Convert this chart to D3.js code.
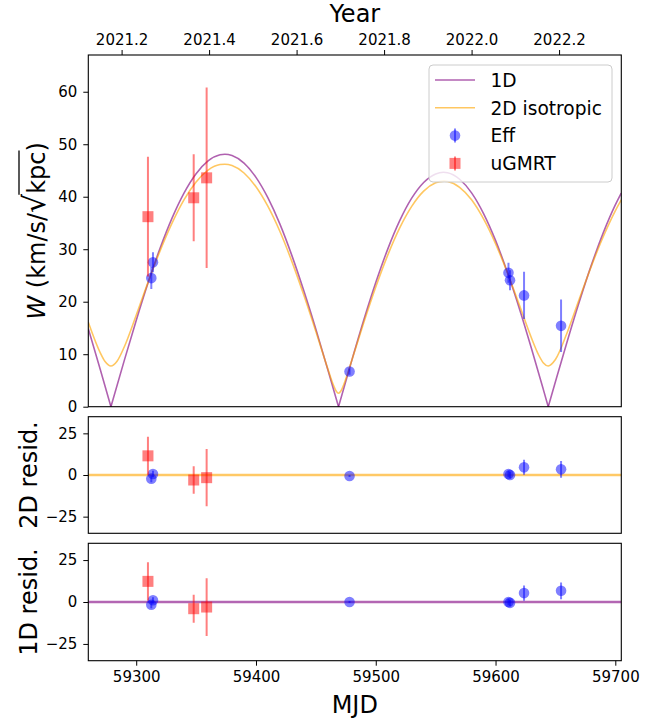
<!DOCTYPE html>
<meta charset="utf-8">
<script src="https://d3js.org/d3.v7.min.js"></script>
<style>
  body { margin: 0; background: #fff; }
  text { font-family: "DejaVu Sans", sans-serif; }
</style>
<div id="viz"></div>
<script>

// ---- data ----
var mjdDomain = [59260, 59705];
var wDomain = [0, 67];
var residDomain = [-35, 35];

var yearTicks = [2021.2, 2021.4, 2021.6, 2021.8, 2022.0, 2022.2];
var mjdTicks = [59300, 59400, 59500, 59600, 59700];
var wTicks = [0, 10, 20, 30, 40, 50, 60];
var residTicks = [-25, 0, 25];

// 1D model curve (zeros split the |...| lobes)
var model1DMjd = [59260, 59270, 59278.9, 59290, 59300, 59310, 59320, 59330, 59340, 59350, 59360, 59370, 59374, 59380,
  59390, 59400, 59410, 59420, 59430, 59440, 59450, 59460, 59468.9, 59480, 59490, 59500, 59510, 59520, 59530, 59540,
  59550, 59556.5, 59560, 59570, 59580, 59590, 59600, 59610, 59620, 59630, 59640, 59644, 59650, 59660, 59670, 59680,
  59690, 59700, 59705];
var model1DW = [14.85, 7.10, 0, 8.78, 16.44, 23.66, 30.23, 35.97, 40.74, 44.39, 46.83, 48.00, 48.1, 47.85,
  46.41, 43.69, 39.78, 34.79, 28.78, 22.03, 14.76, 7.05, 0, 8.83, 16.50, 23.64, 30.02, 35.44, 39.72, 42.72,
  44.35, 44.65, 44.56, 43.33, 40.74, 36.80, 31.69, 25.53, 18.63, 11.09, 3.20, 0, 4.76, 12.58, 20.05, 26.97,
  33.16, 38.44, 40.70];

// 2D isotropic model curve
var model2DMjd = [59260, 59270, 59274, 59278.9, 59284, 59290, 59300, 59310, 59320, 59330, 59340, 59350, 59360, 59370,
  59374, 59380, 59390, 59400, 59410, 59420, 59430, 59440, 59450, 59460, 59464.9, 59466.9, 59468.9, 59470.9, 59472.9,
  59480, 59490, 59500, 59510, 59520, 59530, 59540, 59550, 59557, 59560, 59570, 59580, 59590, 59600, 59610, 59620,
  59630, 59636, 59640, 59644, 59650, 59660, 59670, 59680, 59690, 59700, 59705];
var model2DW = [16.10, 10.27, 8.60, 7.75, 8.66, 11.38, 17.43, 23.78, 29.73, 35.01, 39.44, 42.81, 45.07, 46.13,
  46.2, 45.94, 44.52, 41.90, 38.15, 33.37, 27.64, 21.22, 14.34, 7.20, 3.98, 2.99, 2.57, 2.99, 4.00,
  8.85, 16.02, 22.79, 28.87, 34.06, 38.16, 41.06, 42.65, 42.97, 42.90, 41.80, 39.42, 35.77, 31.07, 25.46, 19.32,
  13.08, 9.85, 8.33, 7.75, 8.98, 14.24, 20.56, 26.77, 32.43, 37.31, 39.40];

// Effelsberg points
var effMjd = [59312.6, 59314.0, 59478.1, 59610.8, 59612.1, 59623.8, 59654.7];
var effW = [24.5, 27.5, 6.7, 25.5, 24.1, 21.2, 15.4];
var effErr = [2.1, 1.9, 0.6, 1.9, 1.9, 4.5, 5.0];
var effRes2D = [-2.2, 0.6, -0.6, 0.6, 0.0, 4.6, 3.4];
var effRes1D = [-1.6, 1.0, 0.0, 0.0, -0.5, 5.3, 6.7];

// uGMRT points
var gmrtMjd = [59309.8, 59348.0, 59358.8];
var gmrtW = [36.2, 39.8, 43.6];
var gmrtErr = [11.4, 8.3, 17.2];
var gmrtRes2D = [11.5, -3.0, -1.6];
var gmrtRes1D = [12.3, -4.0, -3.0];

// ---- layout ----
var W = 670, H = 721;
var left = 88.3, right = 621.3;
var panels = [
  {top: 55, bottom: 406.7, domain: wDomain, ticks: wTicks},
  {top: 416.7, bottom: 533.3, domain: residDomain, ticks: residTicks},
  {top: 543.3, bottom: 660.7, domain: residDomain, ticks: residTicks}
];

var c1D = "purple", c2D = "orange";

var svg = d3.select("#viz").append("svg")
  .attr("width", W).attr("height", H);

var x = d3.scaleLinear().domain(mjdDomain).range([left, right]);

function mjdToYear(m) { return 2000 + (m - 51544.5) / 365.25; }
var xYear = d3.scaleLinear().domain(mjdDomain.map(mjdToYear)).range([left, right]);

panels.forEach(function (p, i) {
  p.y = d3.scaleLinear().domain(p.domain).range([p.bottom, p.top]);
  svg.append("clipPath").attr("id", "clip" + i)
    .append("rect").attr("x", left).attr("y", p.top)
    .attr("width", right - left).attr("height", p.bottom - p.top);
  p.g = svg.append("g");
  p.plot = p.g.append("g").attr("clip-path", "url(#clip" + i + ")");
});

function styleAxis(g) {
  g.select(".domain").remove();
  g.selectAll(".tick line").attr("stroke", "#000").attr("stroke-width", 1);
  g.selectAll(".tick text").attr("fill", "#000")
    .style("font-family", "DejaVu Sans").style("font-size", "15px");
}

// left axes
panels.forEach(function (p) {
  p.g.append("g")
    .attr("transform", "translate(" + left + ",0)")
    .call(d3.axisLeft(p.y).tickValues(p.ticks).tickSize(5).tickPadding(6))
    .call(styleAxis);
});

// top (year) axis
svg.append("g")
  .attr("transform", "translate(0," + panels[0].top + ")")
  .call(d3.axisTop(xYear).tickValues(yearTicks).tickSize(5).tickPadding(5)
    .tickFormat(d3.format(".1f")))
  .call(styleAxis);

// bottom (MJD) axis on last panel
svg.append("g")
  .attr("transform", "translate(0," + panels[2].bottom + ")")
  .call(d3.axisBottom(x).tickValues(mjdTicks).tickSize(5).tickPadding(5.5)
    .tickFormat(d3.format("d")))
  .call(styleAxis);

// ---- main panel curves ----
var main = panels[0];
function lineOf(yScale) {
  return d3.line().x(function (d) { return x(d[0]); })
    .y(function (d) { return yScale(d[1]); })
    .curve(d3.curveMonotoneX);
}

// split 1D curve into lobes at its zeros
var segs = [], cur = [];
model1DMjd.forEach(function (m, i) {
  cur.push([m, model1DW[i]]);
  if (model1DW[i] === 0 && cur.length > 1) { segs.push(cur); cur = [[m, 0]]; }
});
if (cur.length > 1) segs.push(cur);

main.plot.selectAll("path.m1d").data(segs).join("path")
  .attr("class", "m1d")
  .attr("d", lineOf(main.y))
  .attr("fill", "none").attr("stroke", c1D)
  .attr("stroke-opacity", 0.62).attr("stroke-width", 1.6);

main.plot.append("path")
  .datum(model2DMjd.map(function (m, i) { return [m, model2DW[i]]; }))
  .attr("d", lineOf(main.y))
  .attr("fill", "none").attr("stroke", c2D)
  .attr("stroke-opacity", 0.62).attr("stroke-width", 1.6);

// residual zero lines
panels[1].plot.append("line")
  .attr("x1", left).attr("x2", right)
  .attr("y1", panels[1].y(0)).attr("y2", panels[1].y(0))
  .attr("stroke", c2D).attr("stroke-opacity", 0.6).attr("stroke-width", 2.6);
panels[2].plot.append("line")
  .attr("x1", left).attr("x2", right)
  .attr("y1", panels[2].y(0)).attr("y2", panels[2].y(0))
  .attr("stroke", c1D).attr("stroke-opacity", 0.6).attr("stroke-width", 2.6);

// ---- data points with error bars ----
function drawPoints(g, yScale, mjd, vals, errs, kind) {
  var col = kind === "eff" ? "blue" : "red";
  var data = mjd.map(function (m, i) { return {m: m, v: vals[i], e: errs[i]}; });
  g.append("g").selectAll("line").data(data).join("line")
    .attr("x1", function (d) { return x(d.m); })
    .attr("x2", function (d) { return x(d.m); })
    .attr("y1", function (d) { return yScale(d.v - d.e); })
    .attr("y2", function (d) { return yScale(d.v + d.e); })
    .attr("stroke", col).attr("stroke-width", 2).attr("stroke-opacity", 0.5);
  if (kind === "eff") {
    g.append("g").selectAll("circle").data(data).join("circle")
      .attr("cx", function (d) { return x(d.m); })
      .attr("cy", function (d) { return yScale(d.v); })
      .attr("r", 5.3).attr("fill", col).attr("fill-opacity", 0.5);
  } else {
    g.append("g").selectAll("rect").data(data).join("rect")
      .attr("x", function (d) { return x(d.m) - 5.5; })
      .attr("y", function (d) { return yScale(d.v) - 5.5; })
      .attr("width", 11).attr("height", 11)
      .attr("fill", col).attr("fill-opacity", 0.5);
  }
}

drawPoints(main.plot, main.y, effMjd, effW, effErr, "eff");
drawPoints(main.plot, main.y, gmrtMjd, gmrtW, gmrtErr, "gmrt");
drawPoints(panels[1].plot, panels[1].y, effMjd, effRes2D, effErr, "eff");
drawPoints(panels[1].plot, panels[1].y, gmrtMjd, gmrtRes2D, gmrtErr, "gmrt");
drawPoints(panels[2].plot, panels[2].y, effMjd, effRes1D, effErr, "eff");
drawPoints(panels[2].plot, panels[2].y, gmrtMjd, gmrtRes1D, gmrtErr, "gmrt");

// frames
panels.forEach(function (p) {
  p.g.append("rect")
    .attr("x", left).attr("y", p.top)
    .attr("width", right - left).attr("height", p.bottom - p.top)
    .attr("fill", "none").attr("stroke", "#000").attr("stroke-width", 1.1);
});

// ---- legend ----
var lg = svg.append("g");
lg.append("rect")
  .attr("x", 429).attr("y", 65).attr("width", 183).attr("height", 117)
  .attr("rx", 4).attr("fill", "#fff").attr("fill-opacity", 0.8)
  .attr("stroke", "#ccc").attr("stroke-width", 1);
var legendItems = ["1D", "2D isotropic", "Eff", "uGMRT"];
legendItems.forEach(function (name, i) {
  var cy = 80 + i * 27.8;
  if (i < 2) {
    lg.append("line").attr("x1", 435).attr("x2", 475).attr("y1", cy).attr("y2", cy)
      .attr("stroke", i === 0 ? c1D : c2D).attr("stroke-opacity", 0.62).attr("stroke-width", 1.6);
  } else {
    lg.append("line").attr("x1", 455).attr("x2", 455).attr("y1", cy - 7).attr("y2", cy + 7)
      .attr("stroke", i === 2 ? "blue" : "red").attr("stroke-width", 2).attr("stroke-opacity", 0.5);
    if (i === 2) {
      lg.append("circle").attr("cx", 455).attr("cy", cy).attr("r", 5.3)
        .attr("fill", "blue").attr("fill-opacity", 0.5);
    } else {
      lg.append("rect").attr("x", 449.5).attr("y", cy - 5.5).attr("width", 11).attr("height", 11)
        .attr("fill", "red").attr("fill-opacity", 0.5);
    }
  }
  lg.append("text").attr("x", 490.5).attr("y", cy + 6.8)
    .style("font-size", "18.6px").text(name);
});

// ---- axis titles ----
var midX = (left + right) / 2;
svg.append("text").attr("x", midX).attr("y", 22).attr("text-anchor", "middle")
  .style("font-size", "24px").text("Year");
svg.append("text").attr("x", midX).attr("y", 713).attr("text-anchor", "middle")
  .style("font-size", "24px").text("MJD");

svg.append("text")
  .attr("transform", "translate(37," + (panels[1].top + panels[1].bottom) / 2 + ") rotate(-90)")
  .attr("text-anchor", "middle").style("font-size", "24px").text("2D resid.");
svg.append("text")
  .attr("transform", "translate(37," + (panels[2].top + panels[2].bottom) / 2 + ") rotate(-90)")
  .attr("text-anchor", "middle").style("font-size", "24px").text("1D resid.");

// main y label with a radical over kpc
var yl = svg.append("g")
  .attr("transform", "translate(45," + (main.top + main.bottom) / 2 + ") rotate(-90)");
var ylt = yl.append("text").attr("x", 0).attr("y", 0)
  .attr("text-anchor", "middle").style("font-size", "24px");
ylt.append("tspan").style("font-style", "italic").text("W");
ylt.append("tspan").text(" (km/s/");
ylt.append("tspan").style("font-size", "30px").text("\u221A");
ylt.append("tspan").text("kpc");
ylt.append("tspan").text(")");
// overline from the radical top across "kpc"
var full = ylt.text();
var iK = full.indexOf("kpc");
var xa = ylt.node().getStartPositionOfChar(iK - 1).x + ylt.node().getSubStringLength(iK - 1, 1) - 1;
var xb = ylt.node().getEndPositionOfChar(iK + 2).x + 1;
yl.append("line").attr("x1", xa).attr("x2", xb).attr("y1", -26).attr("y2", -26)
  .attr("stroke", "#000").attr("stroke-width", 1.3);

</script>
